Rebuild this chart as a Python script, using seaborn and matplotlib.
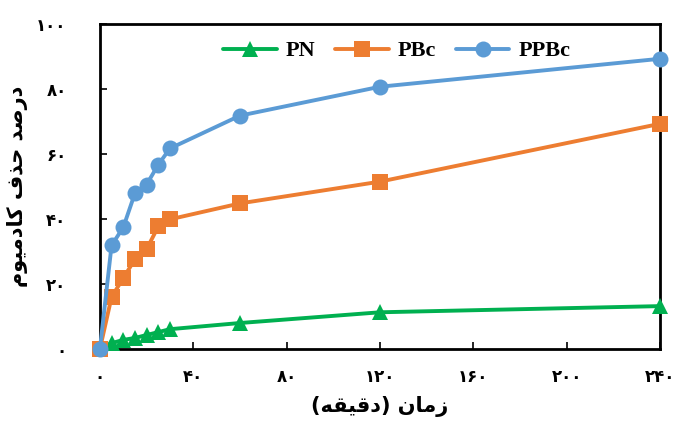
import numpy as np
import pandas as pd
import matplotlib
matplotlib.use("Agg")
import matplotlib.pyplot as plt
import seaborn as sns

# data
time_min = [0, 5, 10, 15, 20, 25, 30, 60, 120, 240]
pn = [0, 1.8, 2.8, 3.4, 4.3, 5.2, 6.1, 8.0, 11.3, 13.2]
pbc = [0, 16.0, 21.8, 27.6, 30.7, 37.7, 39.9, 44.8, 51.5, 69.3]
ppbc = [0, 31.9, 37.4, 47.9, 50.6, 56.7, 61.7, 71.8, 80.7, 89.3]

series_names = ["PN", "PBc", "PPBc"]
colors = {"PN": "#00B050", "PBc": "#ED7D31", "PPBc": "#5B9BD5"}
markers = {"PN": "^", "PBc": "s", "PPBc": "o"}

x_ticks = [0, 40, 80, 120, 160, 200, 240]
x_tick_labels = ["۰", "۴۰", "۸۰", "۱۲۰", "۱۶۰", "۲۰۰", "۲۴۰"]
y_ticks = [0, 20, 40, 60, 80, 100]
y_tick_labels = ["۰", "۲۰", "۴۰", "۶۰", "۸۰", "۱۰۰"]

# Persian labels, written in shaped presentation forms (visual order)
# "زمان (دقیقه)"
x_label = "(\uFEEA\uFED8\uFEF4\uFED7\uFEA9) \uFEE5\uFE8E\uFEE3\uFEAF"
# "درصد حذف کادمیوم"
y_label = ("\uFEE1\uFEEE\uFEF4\uFEE3\uFEA9\uFE8E\uFB90 "
           "\uFED1\uFEAC\uFEA3 "
           "\uFEAA\uFEBB\uFEAD\uFEA9")

df = pd.DataFrame({
    "time": time_min * 3,
    "removal": pn + pbc + ppbc,
    "series": [s for s in series_names for _ in time_min],
})

sns.set_theme(style="white")
plt.rcParams["font.family"] = ["DejaVu Sans"]
plt.rcParams["text.color"] = "black"
plt.rcParams["axes.labelcolor"] = "black"
plt.rcParams["xtick.color"] = "black"
plt.rcParams["ytick.color"] = "black"

fig = plt.figure(figsize=(6.75, 4.21), dpi=100)
ax = fig.add_axes([0.148, 0.171, 0.830, 0.772])

for name in series_names:
    sub = df[df["series"] == name]
    sns.lineplot(data=sub, x="time", y="removal", ax=ax, color=colors[name],
                 marker=markers[name], markersize=11.5, markeredgewidth=0,
                 linewidth=2.8, label=name, clip_on=False, zorder=3)

ax.set_xlim(0, 240)
ax.set_ylim(0, 100)
ax.set_xticks(x_ticks)
ax.set_xticklabels(x_tick_labels, fontsize=12, fontweight="bold")
ax.set_yticks(y_ticks)
ax.set_yticklabels(y_tick_labels, fontsize=12, fontweight="bold")
ax.tick_params(axis="x", direction="in", length=5, width=1.2, pad=14, bottom=True)
ax.tick_params(axis="y", direction="in", length=5, width=1.2, pad=24, left=True)

for sp in ax.spines.values():
    sp.set_color("black")
    sp.set_linewidth(2)

ax.set_xlabel(x_label, fontsize=15, fontweight="bold", labelpad=7)
ax.set_ylabel(y_label, fontsize=15, fontweight="bold")
ax.yaxis.set_label_coords(-0.128, 0.5)

ax.legend(loc="upper center", bbox_to_anchor=(0.53, 1.01), ncol=3,
          frameon=False, handlelength=2.4, columnspacing=0.9, handletextpad=0.4,
          prop={"family": "Liberation Serif", "weight": "bold", "size": 16})

fig.savefig("out.png", dpi=100)
